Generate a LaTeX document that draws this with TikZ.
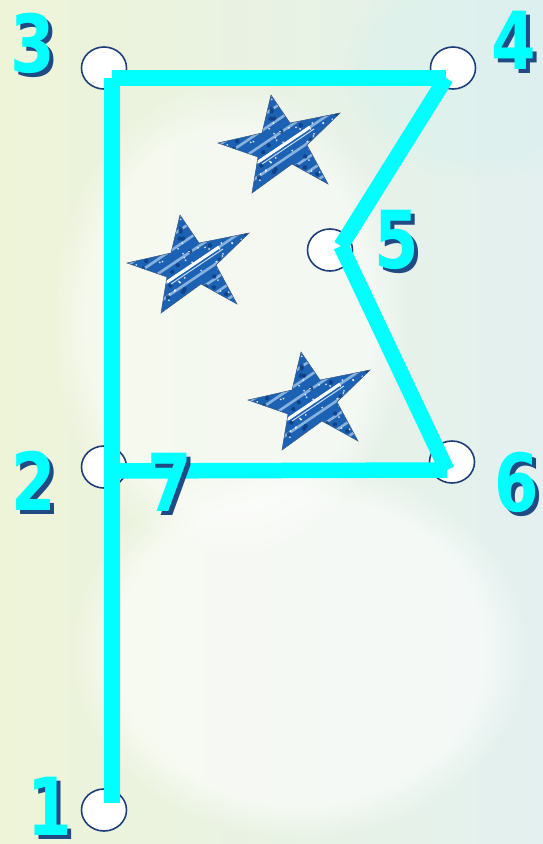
\documentclass[tikz,border=0pt]{standalone}
\usepackage{fontspec}
\newfontfamily\digitfont{DejaVu Sans}
\usetikzlibrary{shapes.geometric,fadings}
\definecolor{flagcyan}{HTML}{00FFFF}
\definecolor{ringblue}{HTML}{1F3F7A}
\definecolor{shadowblue}{HTML}{1F4A84}
\definecolor{bgleft}{HTML}{EEF4D8}
\definecolor{bgmid}{HTML}{F7F9F0}
\definecolor{bgright}{HTML}{E3F0EF}
\definecolor{starbase}{HTML}{1C62B4}
\definecolor{starlight}{HTML}{9CC0E6}
\definecolor{stardark}{HTML}{0B3C80}
\newcommand\narrowdigit[1]{\scalebox{0.8}[1]{#1}}
\tikzset{
  flagline/.style={draw=flagcyan, line width=15.5, line cap=butt},
  ring/.style={ellipse, draw=ringblue, line width=1.6, fill=white, minimum width=45, minimum height=42, inner sep=0},
  numtext/.style={text=flagcyan, font=\digitfont\bfseries\fontsize{80}{80}\selectfont, inner sep=0, anchor=center},
  numshadow/.style={text=shadowblue, font=\digitfont\bfseries\fontsize{80}{80}\selectfont, inner sep=0, anchor=center},
  glitterstar/.pic={
    \begin{scope}
      \path[clip] (-11,-51) -- (8,-23) -- (58,-33) -- (25,-1) -- (46,38) -- (10,18) -- (-30,47) -- (-24,11) -- (-64,-3) -- (-20,-13) -- cycle;
      \fill[starbase] (-70,-60) rectangle (70,60);
      \foreach \k in {-5,...,5}
        \draw[starlight, line width=2.6, opacity=0.85] ({6.72*\k-66.4},{9.96*\k+44.8}) -- ({6.72*\k+66.4},{9.96*\k-44.8});
      \pgfmathsetseed{7}
      \foreach \j in {1,...,60}{
        \pgfmathsetmacro\rx{rnd*130-65}
        \pgfmathsetmacro\ry{rnd*100-52}
        \fill[stardark, opacity=0.8] (\rx,\ry) circle (2.2);
      }
      \foreach \j in {1,...,110}{
        \pgfmathsetmacro\rx{rnd*130-65}
        \pgfmathsetmacro\ry{rnd*100-52}
        \fill[white, opacity=0.8] (\rx,\ry) circle (1.0);
      }
      \draw[white, line width=3] (-24,16) -- (28,-19);
      \draw[starlight!60!white, line width=1] (-20,18) -- (32,-17);
    \end{scope}
    \draw[stardark!60!gray, line width=0.5] (-11,-51) -- (8,-23) -- (58,-33) -- (25,-1) -- (46,38) -- (10,18) -- (-30,47) -- (-24,11) -- (-64,-3) -- (-20,-13) -- cycle;
  }
}
\begin{document}
\begin{tikzpicture}[x=1pt,y=-1pt]
\useasboundingbox (0,0) rectangle (543,844);
% background
\shade[left color=bgleft, middle color=bgmid, right color=bgright] (0,0) rectangle (543,844);
\fill[white, opacity=0.6, path fading=circle with fuzzy edge 20 percent] (300,650) ellipse (230 and 190);
\fill[white, opacity=0.5, path fading=circle with fuzzy edge 20 percent] (230,320) ellipse (180 and 240);
\fill[bgright!92!cyan, opacity=0.3, path fading=circle with fuzzy edge 20 percent] (480,70) ellipse (140 and 110);

% stars
\pic (star1) at (282,146) {glitterstar};
\pic (star2) at (191,266) {glitterstar};
\pic (star3) at (312,403) {glitterstar};

% rings
\node[ring] (c1) at (104,810) {};
\node[ring] (c2) at (104,467) {};
\node[ring] (c3) at (104,68) {};
\node[ring] (c4) at (453,68) {};
\node[ring] (c5) at (330,250) {};
\node[ring] (c6) at (452,462) {};

% flag line vertices
\coordinate (v1) at (112,803);
\coordinate (v3) at (112,78);
\coordinate (v4) at (446,78);
\coordinate (v5) at (341,246);
\coordinate (v6) at (447,470);
\coordinate (v7) at (112,471);
\draw[flagline] (v1) -- (v3);
\draw[flagline] (v3) -- (v4);
\draw[flagline] (v4) -- (v5);
\draw[flagline] (v5) -- (v6);
\draw[flagline] (v6) -- (v7);

% labels
\node[numshadow] (s3) at (37,47) {\narrowdigit{3}};
\node[numtext] (n3) at (33,43) {\narrowdigit{3}};
\node[numshadow] (s4) at (518,44) {\narrowdigit{4}};
\node[numtext] (n4) at (514,40) {\narrowdigit{4}};
\node[numshadow] (s5) at (401,244) {\narrowdigit{5}};
\node[numtext] (n5) at (397,240) {\narrowdigit{5}};
\node[numshadow] (s6) at (521,486) {\narrowdigit{6}};
\node[numtext] (n6) at (517,482) {\narrowdigit{6}};
\node[numshadow] (s2) at (38,485) {\narrowdigit{2}};
\node[numtext] (n2) at (34,481) {\narrowdigit{2}};
\node[numshadow] (s7) at (174,486) {\narrowdigit{7}};
\node[numtext] (n7) at (170,482) {\narrowdigit{7}};
\node[numshadow] (s1) at (54,810) {\narrowdigit{1}};
\node[numtext] (n1) at (50,806) {\narrowdigit{1}};
\end{tikzpicture}
\end{document}
